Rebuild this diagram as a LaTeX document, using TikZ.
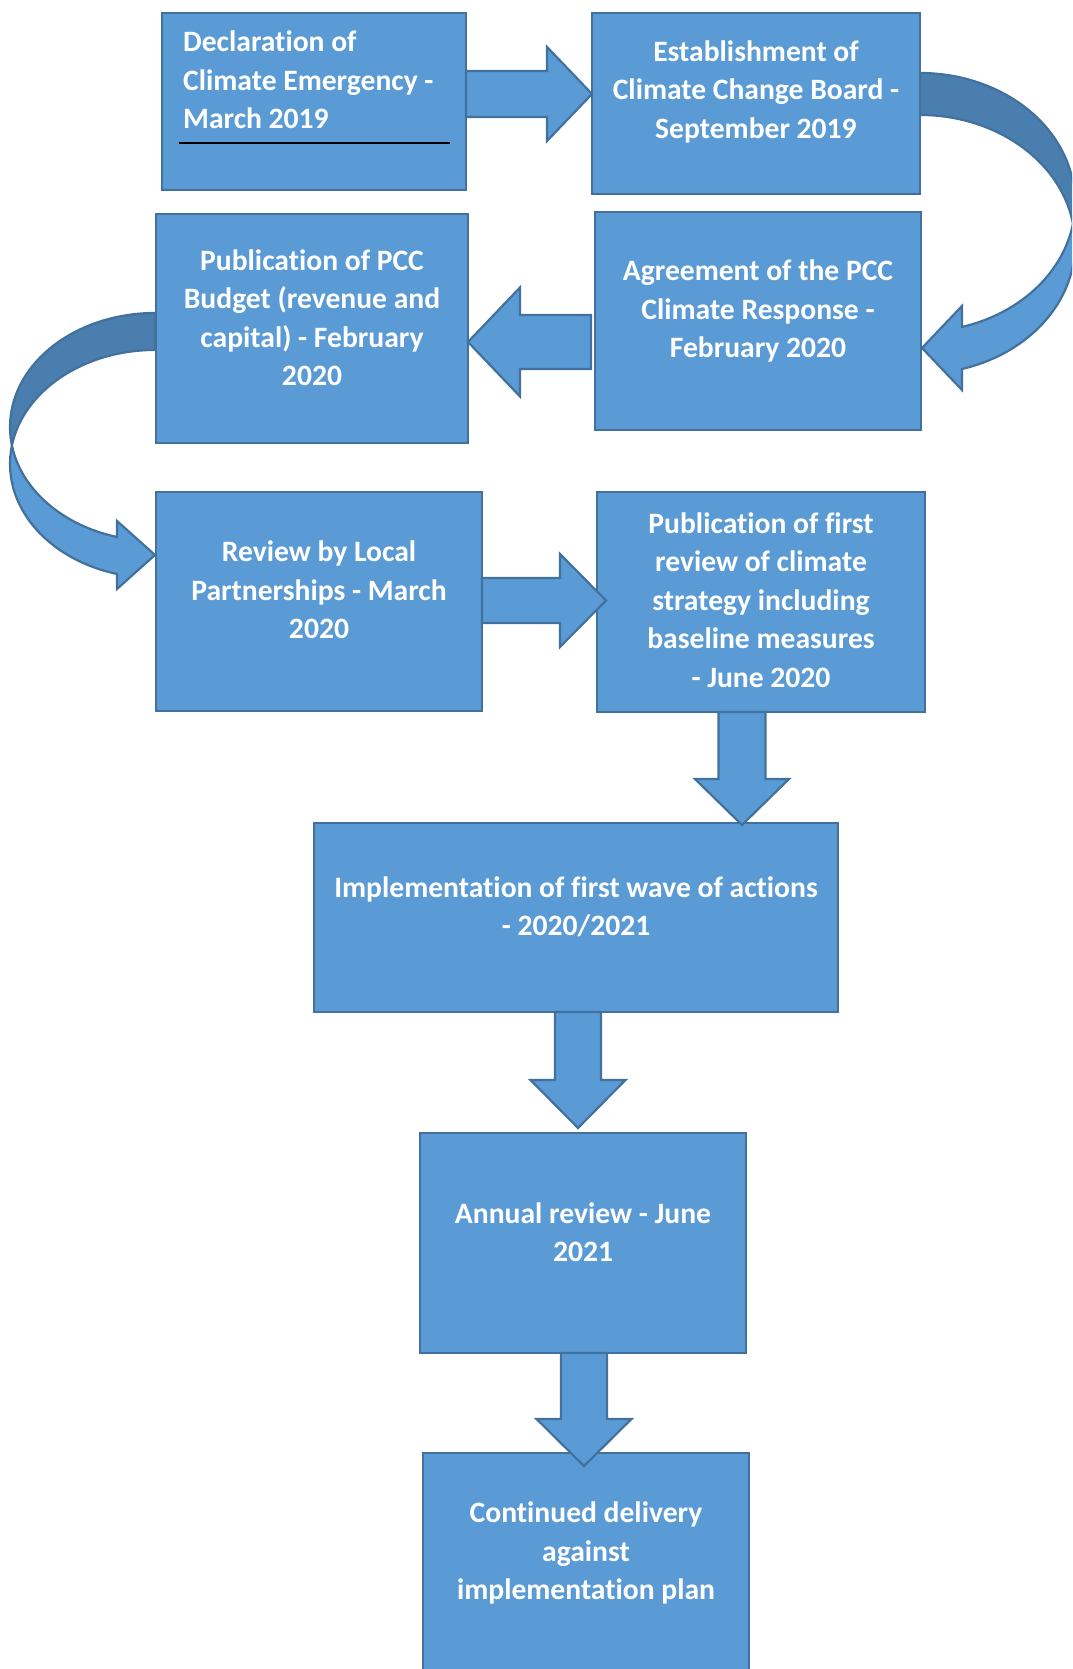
\documentclass[tikz,border=0pt]{standalone}
\usepackage{fontspec}
\setmainfont{Carlito}[Ligatures=NoCommon]
\usetikzlibrary{calc}
\definecolor{boxfill}{HTML}{5B9BD5}
\definecolor{boxline}{HTML}{41719C}
\definecolor{darkband}{HTML}{4A7EAF}
\tikzset{
  box/.style={draw=boxline, fill=boxfill, line width=2.2pt, inner sep=0pt, outer sep=0pt},
  txt/.style={text=white, font=\bfseries\fontsize{29.6}{38.5}\selectfont, align=center, inner sep=0pt},
  barrow/.style={draw=boxline, fill=boxfill, line width=2.2pt, line join=miter},
  bdark/.style={draw=boxline, fill=darkband, line width=2.2pt},
}
% horizontal block arrow: tail, tip, shaft half, head half, head length, direction
\newcommand\hblock[6]{%
  \draw[barrow] let \p1=#1, \p2=#2 in
  (\x1,\y1+#3) -- ({\x2-(#6)*(#5)},\y1+#3) -- ({\x2-(#6)*(#5)},\y1+#4) -- (\x2,\y1)
  -- ({\x2-(#6)*(#5)},\y1-#4) -- ({\x2-(#6)*(#5)},\y1-#3) -- (\x1,\y1-#3) -- cycle;}
% downward block arrow: tail, tip, shaft half, head half, head length
\newcommand\vblock[5]{%
  \draw[barrow] let \p1=#1, \p2=#2 in
  (\x1-#3,\y1) -- (\x1-#3,\y2+#5) -- (\x1-#4,\y2+#5) -- (\x1,\y2)
  -- (\x1+#4,\y2+#5) -- (\x1+#3,\y2+#5) -- (\x1+#3,\y1) -- cycle;}
\begin{document}
\begin{tikzpicture}[x=1pt,y=1pt]
\useasboundingbox (0,0) rectangle (1072,1669);
\clip (0,0) rectangle (1072,1669);

% curved arrows (behind the boxes)
\path[bdark] (920,1596)
  arc[start angle=90, end angle=-9.34, x radius=155, y radius=129.4]
  arc[start angle=9.34, end angle=90, x radius=155, y radius=129.4] -- cycle;
\path[barrow] (962,1342)
  arc[start angle=-74.3, end angle=-9.34, x radius=155, y radius=129.4]
  arc[start angle=9.34, end angle=-74.3, x radius=155, y radius=129.4]
  -- (962,1279) -- (922,1321) -- (962,1363) -- cycle;

\path[bdark] (155,1356)
  arc[start angle=90, end angle=189.34, x radius=145, y radius=114]
  arc[start angle=170.66, end angle=90, x radius=145, y radius=114] -- cycle;
\path[barrow] (117,1132)
  arc[start angle=254.8, end angle=189.34, x radius=145, y radius=114]
  arc[start angle=170.66, end angle=254.8, x radius=145, y radius=114]
  -- (117,1080) -- (155,1114) -- (117,1148) -- cycle;

% boxes
\node[box, minimum width=304pt, minimum height=177pt] (b1) at (314,1567.5) {};
\node[box, minimum width=328pt, minimum height=181pt] (b2) at (756,1565.5) {};
\node[box, minimum width=312pt, minimum height=229pt] (b3) at (312,1340.5) {};
\node[box, minimum width=326pt, minimum height=218pt] (b4) at (758,1348) {};
\node[box, minimum width=326pt, minimum height=219pt] (b5) at (319,1067.5) {};
\node[box, minimum width=328pt, minimum height=220pt] (b6) at (761,1067) {};
\node[box, minimum width=524pt, minimum height=189pt] (b7) at (576,751.5) {};
\node[box, minimum width=326pt, minimum height=220pt] (b8) at (583,426) {};
\node[box, minimum width=326pt, minimum height=227pt] (b9) at (586,102.5) {};

% texts
\node[txt, align=left, anchor=west] (t1) at (183,1589) {Declaration of\\Climate Emergency -\\March 2019};
\node[txt] (t2) at (756,1577.5) {Establishment of\\Climate Change Board -\\September 2019};
\node[txt] (t3) at (312,1351.5) {Publication of PCC\\Budget (revenue and\\capital) - February\\2020};
\node[txt] (t4) at (758,1358) {Agreement of the PCC\\Climate Response -\\February 2020};
\node[txt] (t5) at (319,1079) {Review by Local\\Partnerships - March\\2020};
\node[txt] (t6) at (761,1069) {Publication of first\\review of climate\\strategy including\\baseline measures\\- June 2020};
\node[txt] (t7) at (576,762) {Implementation of first wave of actions\\- 2020/2021};
\node[txt] (t8) at (583,437) {Annual review - June\\2021};
\node[txt] (t9) at (586,116) {Continued delivery\\against\\implementation plan};

% underline in first box
\coordinate (u1) at (179,1526);
\coordinate (u2) at (450,1526);
\draw[black, line width=1.6pt] (u1) -- (u2);

% straight block arrows
\coordinate (y1) at (0,1575);
\coordinate (y2) at (0,1327);
\coordinate (y3) at (0,1068.5);
\coordinate (x4) at (742,0);
\coordinate (x5) at (578,0);
\coordinate (x6) at (584,0);
\hblock{(b1.east |- y1)}{(b2.west |- y1)}{23}{47}{45}{1}
\hblock{($(b4.west |- y2)+(-4,0)$)}{(b3.east |- y2)}{27}{54.5}{52}{-1}
\hblock{(b5.east |- y3)}{($(b6.west |- y3)+(9,0)$)}{22.5}{46.5}{46}{1}
\vblock{(b6.south -| x4)}{($(b7.north -| x4)+(0,-2)$)}{23.5}{47}{46}
\vblock{(b7.south -| x5)}{($(b8.north -| x5)+(0,5)$)}{23}{47.5}{48}
\vblock{(b8.south -| x6)}{($(b9.north -| x6)+(0,-13)$)}{23}{47.5}{47}
\end{tikzpicture}
\end{document}
